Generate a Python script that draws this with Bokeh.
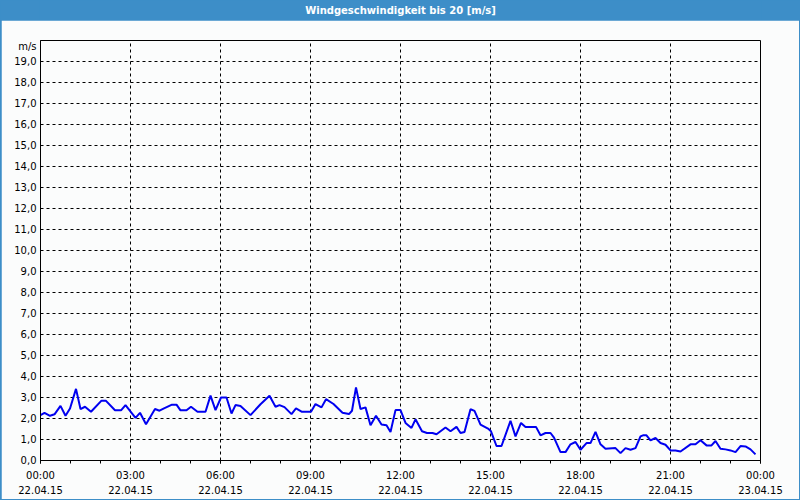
from datetime import datetime, timedelta
from bokeh.plotting import figure
from bokeh.layouts import column
from bokeh.models import (ColumnDataSource, Range1d, FixedTicker, DatetimeTickFormatter)
from bokeh.core.properties import value
from bokeh.embed import file_html
from bokeh.resources import INLINE

title_text = "Windgeschwindigkeit bis 20 [m/s]"
day = "2015-04-22"
y_unit = "m/s"

times = ["00:00", "00:08", "00:19", "00:28", "00:40", "00:50", "00:59", "01:11", "01:20", "01:29",
         "01:41", "02:02", "02:11", "02:29", "02:41", "02:50", "03:10", "03:19", "03:31", "03:49",
         "03:58", "04:07", "04:23", "04:32", "04:40", "04:52", "05:01", "05:14", "05:30", "05:40",
         "05:50", "06:01", "06:12", "06:22", "06:30", "06:40", "07:00", "07:20", "07:38", "07:50",
         "07:58", "08:08", "08:22", "08:31", "08:43", "09:01", "09:10", "09:22", "09:31", "09:46",
         "10:04", "10:17", "10:23", "10:31", "10:40", "10:50", "11:00", "11:11", "11:22", "11:32",
         "11:40", "11:50", "12:00", "12:10", "12:22", "12:30", "12:43", "12:53", "13:04", "13:12",
         "13:30", "13:40", "13:52", "14:00", "14:08", "14:20", "14:28", "14:40", "14:55", "15:01",
         "15:12", "15:22", "15:40", "15:50", "16:01", "16:10", "16:31", "16:40", "16:50", "17:00",
         "17:07", "17:20", "17:30", "17:40", "17:50", "18:00", "18:12", "18:20", "18:30", "18:40",
         "18:50", "19:10", "19:20", "19:30", "19:40", "19:50", "20:00", "20:05", "20:12", "20:20",
         "20:30", "20:40", "20:50", "21:00", "21:10", "21:20", "21:40", "21:50", "22:00", "22:12",
         "22:22", "22:30", "22:40", "22:50", "23:00", "23:10", "23:20", "23:30", "23:40", "23:50"]

speed = [2.16, 2.27, 2.13, 2.20, 2.60, 2.13, 2.48, 3.41, 2.45, 2.56,
         2.32, 2.85, 2.84, 2.39, 2.39, 2.64, 2.03, 2.27, 1.73, 2.45,
         2.37, 2.48, 2.66, 2.66, 2.39, 2.39, 2.56, 2.32, 2.32, 3.09,
         2.40, 3.00, 3.00, 2.24, 2.64, 2.60, 2.16, 2.68, 3.08, 2.56,
         2.64, 2.54, 2.21, 2.48, 2.32, 2.32, 2.69, 2.53, 2.92, 2.69,
         2.27, 2.21, 2.37, 3.48, 2.45, 2.53, 1.68, 2.13, 1.71, 1.68,
         1.36, 2.40, 2.40, 1.79, 1.55, 1.96, 1.39, 1.31, 1.31, 1.25,
         1.57, 1.39, 1.60, 1.31, 1.36, 2.44, 2.36, 1.71, 1.52, 1.39,
         0.69, 0.69, 1.89, 1.15, 1.79, 1.60, 1.60, 1.20, 1.31, 1.31,
         1.09, 0.40, 0.40, 0.77, 0.88, 0.51, 0.83, 0.83, 1.36, 0.77,
         0.56, 0.59, 0.35, 0.59, 0.51, 0.59, 1.15, 1.20, 1.20, 0.96,
         1.07, 0.83, 0.75, 0.48, 0.48, 0.43, 0.77, 0.77, 0.96, 0.72,
         0.72, 0.93, 0.56, 0.53, 0.48, 0.40, 0.69, 0.67, 0.53, 0.29]

y_ticks = list(range(0, 20))
y_tick_labels = ["%d,0" % v for v in y_ticks]
unit_label_pos = 19.7
major_hours = [0, 3, 6, 9, 12, 15, 18, 21, 24]
minor_hours = list(range(0, 25))

BLUE = "#3d8ec8"
BG = "#fbfcfc"
FONT = "DejaVu Sans"

start = datetime.strptime(day, "%Y-%m-%d")
end = start + timedelta(days=1)
xs = [datetime.strptime(day + " " + t, "%Y-%m-%d %H:%M") for t in times]
epoch = datetime(1970, 1, 1)


def ms(d):
    return (d - epoch).total_seconds() * 1000.0


major_ms = [ms(start + timedelta(hours=h)) for h in major_hours]
minor_ms = [ms(start + timedelta(hours=h)) for h in minor_hours]

# ---- title bar ----
bar = figure(width=800, height=20, x_range=Range1d(0, 1), y_range=Range1d(0, 1),
             output_backend="svg", toolbar_location=None, min_border=0)
bar.axis.visible = False
bar.grid.visible = False
bar.outline_line_color = None
bar.background_fill_color = BLUE
bar.border_fill_color = BLUE
bar.text(x=[0.5], y=[0.5], text=[title_text], text_color="white",
         text_font=value(FONT), text_font_style="bold", text_font_size="10px",
         text_align="center", text_baseline="middle")

# ---- main chart ----
src = ColumnDataSource(dict(t=xs, v=speed))
p = figure(width=798, height=479, x_axis_type="datetime",
           x_range=Range1d(start, end), y_range=Range1d(0, 20),
           output_backend="svg", toolbar_location=None,
           min_border_left=39, min_border_right=39, min_border_top=20, min_border_bottom=39)
p.margin = (0, 1, 1, 1)
p.background_fill_color = BG
p.border_fill_color = BG
p.outline_line_color = "black"
p.outline_line_width = 1

p.line("t", "v", source=src, line_color="#0000f0", line_width=2)

# x axis
xa = p.xaxis[0]
xa.ticker = FixedTicker(ticks=major_ms, minor_ticks=minor_ms)
fmt = "%H:%M\n%d.%m.%y"
xa.formatter = DatetimeTickFormatter(microseconds=fmt, milliseconds=fmt, seconds=fmt,
                                     minsec=fmt, minutes=fmt, hourmin=fmt, hours=fmt,
                                     days=fmt, months=fmt, years=fmt)
xa.axis_line_color = "black"
xa.major_tick_in = 0
xa.major_tick_out = 3
xa.minor_tick_in = 0
xa.minor_tick_out = 3
xa.major_tick_line_color = "black"
xa.minor_tick_line_color = "black"
xa.major_label_standoff = 6
xa.major_label_text_font = FONT
xa.major_label_text_font_size = "10px"
xa.major_label_text_color = "black"
xa.major_label_text_line_height = 1.45

# y axis
ya = p.yaxis[0]
ya.ticker = FixedTicker(ticks=y_ticks + [unit_label_pos], minor_ticks=[])
ya.major_label_overrides = {**{v: l for v, l in zip(y_ticks, y_tick_labels)}, unit_label_pos: y_unit}
ya.axis_line_color = "black"
ya.major_tick_line_color = None
ya.minor_tick_line_color = None
ya.major_tick_in = 0
ya.major_tick_out = 0
ya.major_label_standoff = 4
ya.major_label_text_font = FONT
ya.major_label_text_font_size = "10px"
ya.major_label_text_color = "black"

# grids
p.xgrid.ticker = FixedTicker(ticks=major_ms[1:-1])
p.ygrid.ticker = FixedTicker(ticks=y_ticks[1:])
for g in (p.xgrid, p.ygrid):
    g.grid_line_color = "black"
    g.grid_line_dash = "3 3"
    g.grid_line_width = 1

layout = column(bar, p, styles={"background-color": BLUE}, spacing=0)
open("out.html", "w").write(file_html(layout, INLINE))
